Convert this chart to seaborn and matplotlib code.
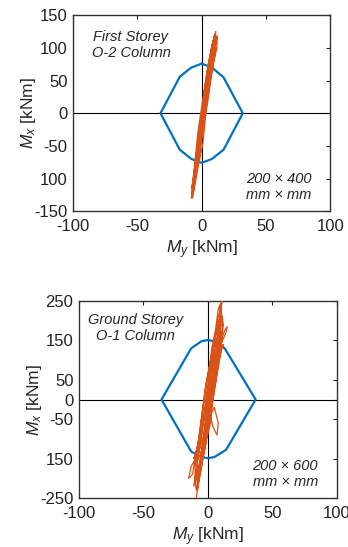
import numpy as np
import pandas as pd
import matplotlib
matplotlib.use('Agg')
import matplotlib.pyplot as plt
import seaborn as sns

sns.set_style('white')
plt.rcParams['font.family'] = ['Liberation Sans', 'DejaVu Sans']
plt.rcParams['mathtext.fontset'] = 'custom'
plt.rcParams['mathtext.it'] = 'Liberation Sans:italic'
plt.rcParams['mathtext.rm'] = 'Liberation Sans'
plt.rcParams['axes.unicode_minus'] = False

BLUE = '#0072BD'
ORANGE = '#D95319'

# interaction diagram, first storey O-2 column (200 x 400)
top_pm_my = [0, 8, 17, 32, 17, 8, 0, -8, -17, -32, -17, -8, 0]
top_pm_mx = [76, 70, 55, 0, -56, -70, -76, -70, -56, 0, 56, 70, 76]

# response, first storey (hand-read loops)
top_my = [-7, -5, -2, 0, 3, 5, 8, 11, 10, 7, 4, 1, -1, -4, -6, -8,
          -6, -3, 1, 3, 6, 9, 12, 12, 9, 5, 2, 0, -2, -5, -8,
          -7, -4, -1, 2, 5, 7, 10, 11, 8, 4, 0, -3, -5, -7,
          -5, -1, 2, 4, 8, 11, 12, 10, 6, 3, -1, -3, -6, -4,
          -2, 1, 3, 6, 9, 10, 7, 4, 1, -2, -4, -7,
          -6, -3, 0, 2, 5, 8, 10, 8, 5, 2, -1, -3, -5, -8,
          -6, -2, 1, 4, 7, 9, 11, 9, 6, 3, 0,
          -7, -4, -1, 1, 4, 6, 9, 12, 11, 8, 5, 2, -1, -3, -6, -7,
          -5, -2, 0, 3, 6, 9, 11, 9, 6, 3, 0, -3, -6]
top_mx = [-130, -100, -60, -20, 20, 60, 95, 125, 120, 90, 55, 15, -25, -65, -100, -125,
          -118, -85, -45, -5, 35, 75, 105, 115, 112, 75, 35, -5, -45, -85, -115,
          -110, -75, -35, 0, 40, 80, 110, 120, 105, 60, 10, -30, -70, -105,
          -95, -50, -10, 25, 65, 95, 100, 100, 70, 30, -20, -55, -90, -75,
          -40, -10, 30, 55, 90, 110, 85, 45, 5, -30, -60, -120,
          -115, -70, -30, 10, 50, 85, 120, 100, 65, 25, -15, -50, -80, -130,
          -105, -65, -25, 15, 55, 80, 100, 95, 50, 20, 0,
          -125, -90, -50, -15, 20, 50, 85, 118, 108, 80, 40, 5, -30, -60, -95, -112,
          -100, -55, -15, 25, 65, 100, 112, 88, 50, 10, -25, -70, -108]

# interaction diagram, ground storey O-1 column (200 x 600)
bot_pm_my = [0, 5, 13, 37, 14, 5, 0, -5, -13, -36, -13, -5, 0]
bot_pm_mx = [151, 148, 130, 0, -128, -146, -149, -146, -132, 0, 130, 148, 151]

# response, ground storey (hand-read loops)
bot_my = [-9, -7, -5, -3, 0, 2, 4, 7, 9, 10, 10,
          8, 6, 3, 1, -2, -4, -6, -8, -10, -10,
          -9, -6, -3, -1, 2, 4, 6, 9, 11, 11,
          8, 5, 2, -1, -3, -5, -7, -10, -12, -15, -13,
          -8, -4, -1, 1, 3, 6, 10, 14, 15, 13, 10,
          6, 3, 0, -3, -5, -7, -9, -8,
          -7, -4, -1, 1, 3, 6, 8, 10, 9, 11,
          9, 6, 3, 0, -2, -4, -6, -9,
          -6, -2, 2, 5, 8, 7, 4, 1, 3, 5, 7, 9, 8, 5, 2, -1, -3, -5, -7, -9, -11,
          -9, -6, -3, 0, 2, 5, 7, 10, 12, 10, 6, 3, 0, -2, -4, -6, -8,
          -7, -4, -1, 1, 4, 6, 8, 10, 8, 5, 2, 0,
          -8, -5, -2, 0, 2, 4, 6, 8, 10, 12, 10, 8, 6, 4, 1, -1, -3, -5, -7, -9, -8,
          -6, -4, -1, 2, 3, 5, 8, 10, 11, 9, 7, 4, 2, -1, -3, -6, -9, -11, -8, -4, 0]
bot_mx = [-250, -200, -150, -100, -50, 0, 50, 100, 150, 200, 245,
          230, 180, 130, 80, 30, -20, -70, -120, -170, -210,
          -230, -180, -130, -80, -30, 20, 70, 120, 170, 210,
          200, 150, 100, 50, 0, -50, -100, -150, -190, -200, -170,
          -140, -100, -60, -10, 40, 90, 140, 170, 185, 175, 150,
          110, 60, 10, -40, -90, -130, -165, -190,
          -175, -120, -70, -30, 10, 60, 110, 160, 230, 250,
          200, 130, 80, 30, -20, -70, -120, -160,
          -140, -90, -40, -20, -60, -90, -70, -30, 20, 80, 130, 170, 190, 150, 90, 40, -10, -60, -110, -180, -220,
          -200, -150, -110, -60, -10, 30, 80, 120, 140, 130, 90, 40, -10, -60, -110, -160, -200,
          -180, -130, -70, -20, 40, 100, 150, 190, 170, 110, 60, 0,
          -220, -170, -120, -80, -40, 0, 40, 90, 140, 190, 230, 210, 160, 110, 60, 10, -40, -80, -130, -180, -230,
          -190, -150, -100, -60, -20, 30, 80, 120, 160, 180, 140, 100, 50, 0, -50, -90, -130, -150, -120, -60, -20]

fig = plt.figure(figsize=(3.48, 5.47), dpi=100)
ax1 = fig.add_axes([0.21, 0.614, 0.739, 0.358])
ax2 = fig.add_axes([0.227, 0.0896, 0.741, 0.36])


def draw(ax, pm_my, pm_mx, my, mx, ylim, yticks, ylabels, title, size, tx, ty):
    ax.axhline(0, color='black', lw=0.8, zorder=1)
    ax.axvline(0, color='black', lw=0.8, zorder=1)
    sns.lineplot(x=my, y=mx, ax=ax, sort=False, estimator=None,
                 color=ORANGE, lw=0.9, zorder=3)
    sns.lineplot(x=pm_my, y=pm_mx, ax=ax, sort=False, estimator=None,
                 color=BLUE, lw=1.6, zorder=2)
    ax.set_xlim(-100, 100)
    ax.set_ylim(*ylim)
    ax.set_xticks([-100, -50, 0, 50, 100])
    ax.set_yticks(yticks)
    ax.set_yticklabels(ylabels)
    ax.tick_params(direction='in', top=True, right=True, length=3,
                   labelsize=12, colors='#222222')
    ax.tick_params(axis='x', pad=6)
    ax.tick_params(axis='y', pad=4)
    for s in ax.spines.values():
        s.set_color('#333333')
        s.set_linewidth(1.0)
    ax.set_xlabel(r'$M_y$ [kNm]', fontsize=12.5, labelpad=3)
    ax.set_ylabel(r'$M_x$ [kNm]', fontsize=12.5, labelpad=-3)
    ax.text(tx, ty, title, transform=ax.transAxes, ha='center', va='top',
            style='italic', fontsize=10.5, multialignment='center')
    ax.text(0.8, 0.045, size, transform=ax.transAxes, ha='center', va='bottom',
            style='italic', fontsize=10.5, multialignment='center')


draw(ax1, top_pm_my, top_pm_mx, top_my, top_mx, (-150, 150),
     [150, 100, 50, 0, -50, -100, -150],
     ['150', '100', '50', '0', '-50', '100', '-150'],
     'First Storey\nO-2 Column', '200 × 400\nmm × mm', 0.225, 0.925)
draw(ax2, bot_pm_my, bot_pm_mx, bot_my, bot_mx, (-250, 250),
     [250, 150, 50, 0, -50, -150, -250],
     ['250', '150', '50', '0', '-50', '150', '-250'],
     'Ground Storey\nO-1 Column', '200 × 600\nmm × mm', 0.22, 0.94)

fig.savefig('out.png', dpi=100, facecolor='white')
